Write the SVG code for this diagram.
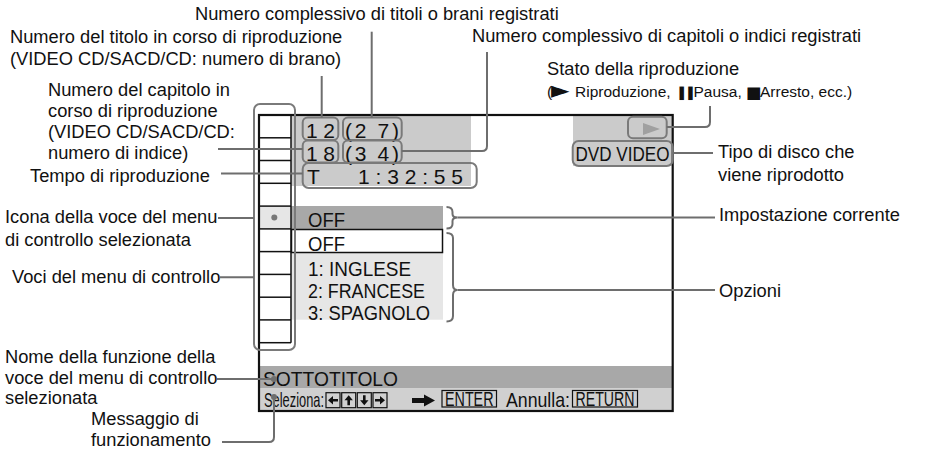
<svg xmlns="http://www.w3.org/2000/svg" width="929" height="449" viewBox="0 0 929 449">
<style>
.lbl{font-family:"Liberation Sans",Arial,sans-serif;font-size:18.3px;fill:#111}
.scr{font-family:"Liberation Sans",Arial,sans-serif;font-size:21px;fill:#111}
.lead{fill:none;stroke:#6e6e6e;stroke-width:2}
.pill{fill:none;stroke:#7a7a7a;stroke-width:2}
.cell{stroke:#111;stroke-width:1.5}
.kbox{fill:none;stroke:#111;stroke-width:1.2}
.sym{font-family:"DejaVu Sans",sans-serif}
.small{font-size:15.5px}
</style>
<defs>
<polygon id="karrow" points="-5,-1.3 0,-1.3 0,-4.2 5,0 0,4.2 0,1.3 -5,1.3" fill="#111"/>
</defs>
<rect width="929" height="449" fill="#fff"/>

<g id="screen">
<rect x="291" y="115" width="180" height="71" fill="#cbcbcb"/>
<rect x="573" y="115" width="100" height="51" fill="#cbcbcb"/>
<rect x="259" y="206.1" width="32" height="22.8" fill="#e6e6e6"/>
<rect x="291" y="206" width="152" height="23" fill="#a8a8a8"/>
<rect x="291" y="252.7" width="152" height="67" fill="#e6e6e6"/>
<rect x="291.5" y="229.5" width="151" height="23" fill="#fff" stroke="#111" stroke-width="1.5"/>
<rect x="259" y="366" width="413.7" height="22.5" fill="#a8a8a8"/>
<rect x="259" y="388.5" width="413.7" height="22.5" fill="#d0d0d0"/>
<rect x="259" y="115" width="413.7" height="296" fill="none" stroke="#111" stroke-width="2.2"/>
</g>

<g id="menu-column">
<line class="cell" x1="291" y1="115" x2="291" y2="342.7"/>
<line class="cell" x1="259" y1="137.8" x2="291" y2="137.8"/>
<line class="cell" x1="259" y1="160.5" x2="291" y2="160.5"/>
<line class="cell" x1="259" y1="183.3" x2="291" y2="183.3"/>
<line class="cell" x1="259" y1="206.1" x2="291" y2="206.1"/>
<line class="cell" x1="259" y1="228.9" x2="291" y2="228.9"/>
<line class="cell" x1="259" y1="251.6" x2="291" y2="251.6"/>
<line class="cell" x1="259" y1="274.4" x2="291" y2="274.4"/>
<line class="cell" x1="259" y1="297.2" x2="291" y2="297.2"/>
<line class="cell" x1="259" y1="319.9" x2="291" y2="319.9"/>
<line class="cell" x1="259" y1="342.7" x2="291" y2="342.7"/>
<circle cx="274.3" cy="217.5" r="3" fill="#777"/>
<rect x="254" y="104" width="41" height="246" rx="6" class="pill"/>
</g>

<g id="title-number">
<rect x="302.7" y="117.5" width="35.6" height="22.5" rx="5" class="pill"/>
<text class="scr" x="306" y="137.5" textLength="29" lengthAdjust="spacing">1 2</text>
</g>
<g id="total-titles">
<rect x="343" y="117.5" width="58.7" height="22.5" rx="5" class="pill"/>
<text class="scr" x="345" y="137.5" textLength="54" lengthAdjust="spacing">(2 7)</text>
</g>
<g id="chapter-number">
<rect x="302.7" y="140.5" width="35.6" height="22" rx="5" class="pill"/>
<text class="scr" x="306" y="160.5" textLength="29" lengthAdjust="spacing">1 8</text>
</g>
<g id="total-chapters">
<rect x="343" y="140.5" width="58.7" height="22" rx="5" class="pill"/>
<text class="scr" x="345" y="160.5" textLength="54" lengthAdjust="spacing">(3 4)</text>
</g>
<g id="time">
<rect x="302.7" y="163" width="174" height="25" rx="6" class="pill"/>
<text class="scr" x="307" y="184">T</text>
<text class="scr" x="358" y="184" textLength="105" lengthAdjust="spacing">1:32:55</text>
</g>
<g id="play-state">
<rect x="628" y="116.7" width="38.7" height="21.6" rx="5" class="pill"/>
<polygon points="643,123 660,129 643,135" fill="#a0a0a0"/>
</g>
<g id="disc-type">
<rect x="572.7" y="141" width="100" height="25" rx="6" class="pill"/>
<text class="scr" x="575.5" y="161" textLength="94" lengthAdjust="spacingAndGlyphs">DVD VIDEO</text>
</g>
<g id="current-setting">
<text class="scr" x="308" y="227" textLength="37" lengthAdjust="spacingAndGlyphs">OFF</text>
</g>
<g id="options">
<text class="scr" x="308" y="250.5" textLength="37" lengthAdjust="spacingAndGlyphs">OFF</text>
<text class="scr" x="308" y="275.5" textLength="103" lengthAdjust="spacingAndGlyphs">1: INGLESE</text>
<text class="scr" x="308" y="298" textLength="117" lengthAdjust="spacingAndGlyphs">2: FRANCESE</text>
<text class="scr" x="308" y="320" textLength="122" lengthAdjust="spacingAndGlyphs">3: SPAGNOLO</text>
</g>
<g id="function-name">
<text class="scr" x="263" y="386" font-size="21.5" textLength="135" lengthAdjust="spacingAndGlyphs">SOTTOTITOLO</text>
</g>
<g id="operation-message">
<text class="scr" x="264" y="406.5" font-size="18.5" textLength="60" lengthAdjust="spacingAndGlyphs">Seleziona:</text>
<rect class="kbox" x="326" y="392.7" width="14" height="15"/>
<rect class="kbox" x="341.7" y="392.7" width="14" height="15"/>
<rect class="kbox" x="357.3" y="392.7" width="14" height="15"/>
<rect class="kbox" x="373" y="392.7" width="14" height="15"/>
<use href="#karrow" transform="translate(333,400.2) rotate(180)"/>
<use href="#karrow" transform="translate(348.7,400.2) rotate(-90)"/>
<use href="#karrow" transform="translate(364.3,400.2) rotate(90)"/>
<use href="#karrow" transform="translate(380,400.2)"/>
<polygon points="412,398 424,398 424,394.5 435,400.5 424,406.5 424,403 412,403" fill="#111"/>
<rect class="kbox" x="442" y="390.5" width="54.5" height="16.5"/>
<text class="scr" x="445" y="405.8" font-size="17" textLength="48.5" lengthAdjust="spacingAndGlyphs">ENTER</text>
<text class="scr" x="506" y="406.5" font-size="19" textLength="64" lengthAdjust="spacingAndGlyphs">Annulla:</text>
<rect class="kbox" x="572.5" y="390.5" width="65" height="16.5"/>
<text class="scr" x="575.5" y="405.8" font-size="17" textLength="59" lengthAdjust="spacingAndGlyphs">RETURN</text>
</g>

<g id="labels">
<text id="l-total-titles" class="lbl" x="195" y="20">Numero complessivo di titoli o brani registrati</text>
<text id="l-title" class="lbl" x="10" y="43">Numero del titolo in corso di riproduzione<tspan x="10" y="64.5">(VIDEO CD/SACD/CD: numero di brano)</tspan></text>
<text id="l-total-chap" class="lbl" x="472" y="42">Numero complessivo di capitoli o indici registrati</text>
<text id="l-stato" class="lbl" x="547" y="75">Stato della riproduzione<tspan class="small" x="547" y="97">(</tspan><tspan class="sym" x="551" y="97.5" font-size="24">►</tspan><tspan class="small" x="575" y="97">Riproduzione, </tspan><tspan class="sym" x="676" y="97" font-size="13.5" letter-spacing="-2.5">❚❚</tspan><tspan class="small" x="693.5" y="97">Pausa, </tspan><tspan class="sym" x="746" y="97.5" font-size="16.5">■</tspan><tspan class="small" x="760" y="97">Arresto, ecc.)</tspan></text>
<text id="l-chapter" class="lbl" x="48" y="96">Numero del capitolo in<tspan x="48" y="117">corso di riproduzione</tspan><tspan x="48" y="138">(VIDEO CD/SACD/CD:</tspan><tspan x="48" y="159">numero di indice)</tspan></text>
<text id="l-tempo" class="lbl" x="30" y="182">Tempo di riproduzione</text>
<text id="l-tipo" class="lbl" x="718" y="158">Tipo di disco che<tspan x="718" y="181">viene riprodotto</tspan></text>
<text id="l-icona" class="lbl" x="5" y="223">Icona della voce del menu<tspan x="5" y="246">di controllo selezionata</tspan></text>
<text id="l-impost" class="lbl" x="719" y="221">Impostazione corrente</text>
<text id="l-voci" class="lbl" x="12" y="283">Voci del menu di controllo</text>
<text id="l-opzioni" class="lbl" x="719" y="297">Opzioni</text>
<text id="l-nome" class="lbl" x="5" y="363">Nome della funzione della<tspan x="5" y="384">voce del menu di controllo</tspan><tspan x="5" y="404">selezionata</tspan></text>
<text id="l-msg" class="lbl" x="91" y="425">Messaggio di<tspan x="91" y="446">funzionamento</tspan></text>
</g>

<g id="connectors">
<path class="lead" d="M321.7,76 V117.5"/>
<path class="lead" d="M371.7,31.7 V117.5"/>
<path class="lead" d="M401.7,151 H482 Q487,151 487,146 V52"/>
<path class="lead" d="M218,149 H302.7"/>
<path class="lead" d="M221,173.5 H302.7"/>
<path class="lead" d="M666.7,127 H705 Q710,127 710,122 V106"/>
<path class="lead" d="M672.7,153 H713"/>
<path class="lead" d="M218,218 H254"/>
<path class="lead" d="M446.5,207 Q452.5,207 452.5,212 V214 Q452.5,217.5 457.5,217.5 Q452.5,217.5 452.5,221 V224 Q452.5,228.5 446.5,228.5"/>
<path class="lead" d="M457.5,217.5 H715"/>
<path class="lead" d="M220,277.3 H254"/>
<path class="lead" d="M446.5,233 Q453,233 453,238 V285 Q453,290 457.5,290 Q453,290 453,295 V316 Q453,321.5 446.5,321.5"/>
<path class="lead" d="M457.5,290 H715"/>
<path class="lead" d="M217,379 H274"/>
<circle cx="274" cy="379" r="3" fill="#6e6e6e"/>
<path class="lead" d="M222,442 H269 Q274,442 274,437 V397"/>
<circle cx="274" cy="397" r="3" fill="#6e6e6e"/>
</g>
</svg>
